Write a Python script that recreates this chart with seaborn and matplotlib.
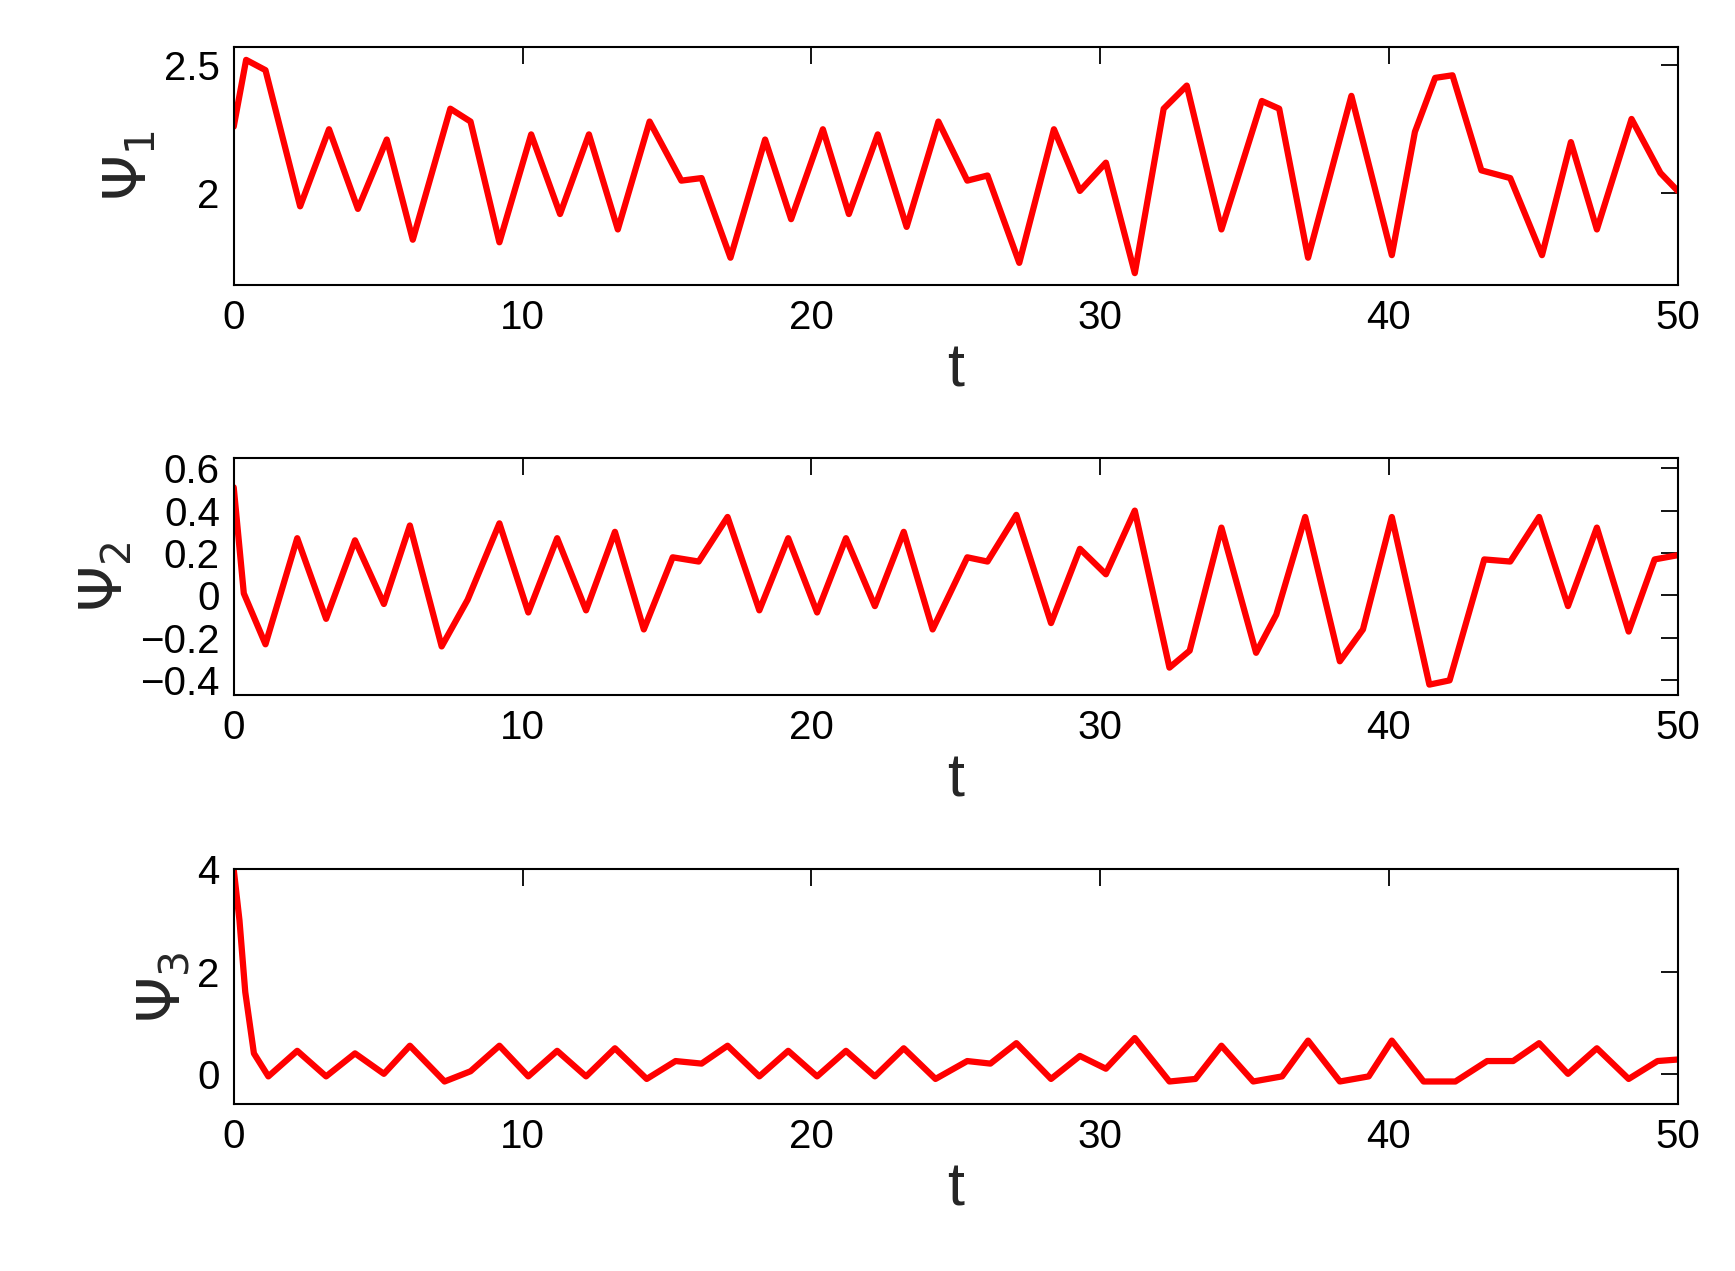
import matplotlib
matplotlib.use("Agg")
import matplotlib.pyplot as plt
import seaborn as sns

t1 = [0,0.43,1.1,2.3,3.3,4.3,5.3,6.2,7.5,8.2,9.2,10.3,11.3,12.3,13.3,14.4,15.5,16.2,17.2,18.4,19.3,20.4,21.3,22.3,23.3,24.4,25.4,26.1,27.2,28.4,29.3,30.2,31.2,32.2,33.0,34.2,35.6,36.2,37.2,38.7,40.1,40.9,41.6,42.2,43.2,44.2,45.3,46.3,47.2,48.4,49.4,50]
psi1 = [2.26,2.52,2.48,1.95,2.25,1.94,2.21,1.82,2.33,2.28,1.81,2.23,1.92,2.23,1.86,2.28,2.05,2.06,1.75,2.21,1.90,2.25,1.92,2.23,1.87,2.28,2.05,2.07,1.73,2.25,2.01,2.12,1.69,2.33,2.42,1.86,2.36,2.33,1.75,2.38,1.76,2.24,2.45,2.46,2.09,2.06,1.76,2.20,1.86,2.29,2.08,2.01]
t2 = [0,0.35,1.1,2.2,3.2,4.2,5.2,6.1,7.2,8.1,9.2,10.2,11.2,12.2,13.2,14.2,15.2,16.1,17.1,18.2,19.2,20.2,21.2,22.2,23.2,24.2,25.4,26.1,27.1,28.3,29.3,30.2,31.2,32.4,33.1,34.2,35.4,36.1,37.1,38.3,39.1,40.1,41.4,42.1,43.3,44.2,45.2,46.2,47.2,48.3,49.2,50]
psi2 = [0.51,0.01,-0.23,0.27,-0.11,0.26,-0.04,0.33,-0.24,-0.02,0.34,-0.08,0.27,-0.07,0.30,-0.16,0.18,0.16,0.37,-0.07,0.27,-0.08,0.27,-0.05,0.30,-0.16,0.18,0.16,0.38,-0.13,0.22,0.10,0.40,-0.34,-0.26,0.32,-0.27,-0.09,0.37,-0.31,-0.16,0.37,-0.42,-0.40,0.17,0.16,0.37,-0.05,0.32,-0.17,0.17,0.19]
t3 = [0,0.2,0.4,0.7,1.2,2.2,3.2,4.2,5.2,6.1,7.3,8.2,9.2,10.2,11.2,12.2,13.2,14.3,15.3,16.2,17.1,18.2,19.2,20.2,21.2,22.2,23.2,24.3,25.4,26.2,27.1,28.3,29.3,30.2,31.2,32.4,33.3,34.2,35.3,36.3,37.2,38.3,39.3,40.1,41.2,42.3,43.4,44.3,45.2,46.2,47.2,48.3,49.3,50]
psi3 = [4.0,3.0,1.6,0.4,-0.05,0.45,-0.05,0.4,0.0,0.55,-0.15,0.05,0.55,-0.05,0.45,-0.05,0.5,-0.1,0.25,0.2,0.55,-0.05,0.45,-0.05,0.45,-0.05,0.5,-0.1,0.25,0.2,0.6,-0.1,0.35,0.1,0.7,-0.15,-0.1,0.55,-0.15,-0.05,0.65,-0.15,-0.05,0.65,-0.15,-0.15,0.25,0.25,0.6,0.0,0.5,-0.1,0.25,0.28]

sns.set_theme(style="white")
plt.rcParams['font.family'] = ['Liberation Sans', 'DejaVu Sans']
plt.rcParams['axes.unicode_minus'] = True
fig = plt.figure(figsize=(17.35, 12.71), dpi=100)
L, W = 0.1347, 0.8323
specs = [
    (t1, psi1, r'$\Psi_1$', (0.776, 0.187), (1.645, 2.57), [2, 2.5], ['2', '2.5']),
    (t2, psi2, r'$\Psi_2$', (0.453, 0.187), (-0.47, 0.65), [-0.4,-0.2,0,0.2,0.4,0.6], ['\u22120.4','\u22120.2','0','0.2','0.4','0.6']),
    (t3, psi3, r'$\Psi_3$', (0.131, 0.185), (-0.6, 4.0), [0, 2, 4], ['0', '2', '4']),
]
for t, y, lab, (b, h), yl, yt, ytl in specs:
    ax = fig.add_axes([L, b, W, h])
    sns.lineplot(x=t, y=y, ax=ax, color='red', lw=4.5)
    ax.set_xlim(0, 50); ax.set_ylim(*yl)
    ax.set_xticks([0,10,20,30,40,50])
    ax.set_yticks(yt); ax.set_yticklabels(ytl)
    ax.tick_params(direction='in', top=True, right=True, length=12, width=1.3, labelsize=29, colors='black', pad=10)
    for s in ax.spines.values():
        s.set_color('black'); s.set_linewidth(1.5)
    ax.set_xlabel('t', fontsize=44, labelpad=4)
    ax.set_ylabel(lab, fontsize=42, labelpad=4)
fig.savefig('out.png', dpi=100, facecolor='white')
